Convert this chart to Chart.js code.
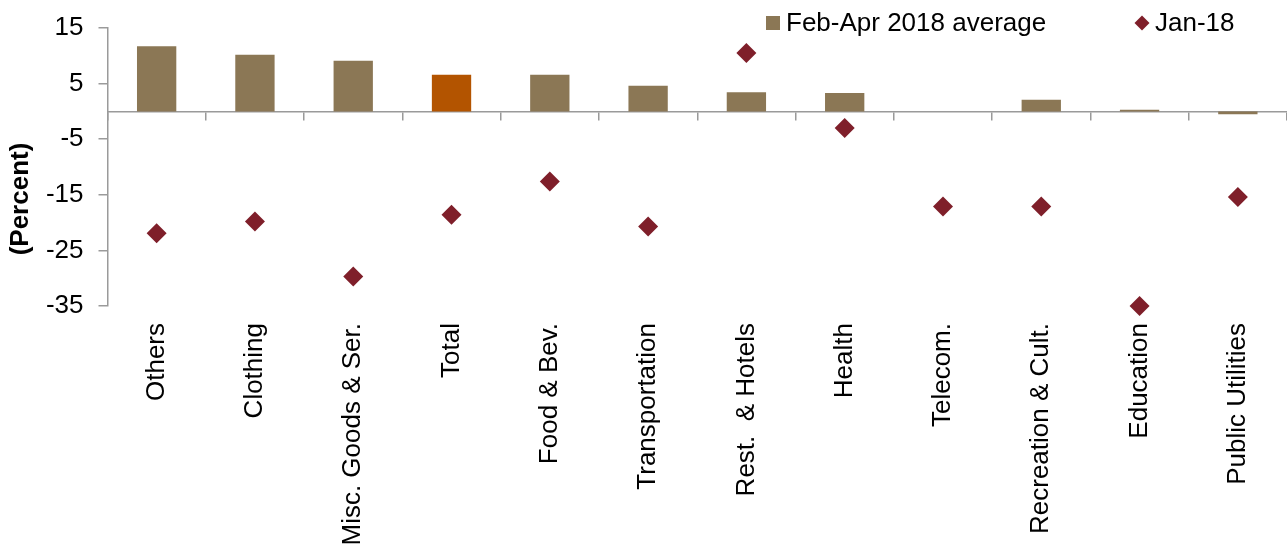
<!DOCTYPE html>
<html>
<head>
<meta charset="utf-8">
<script src="https://cdn.jsdelivr.net/npm/chart.js@4.4.1/dist/chart.umd.min.js"></script>
<style>
    html, body { margin: 0; padding: 0; background: #fff; }
    #div_grafica { width: 1287px; height: 548px; }
</style>
</head>
<body>
<div id="div_grafica"><canvas id="myChart"></canvas></div>
<script>
//datos
const categorias = ['Others', 'Clothing', 'Misc. Goods & Ser.', 'Total', 'Food & Bev.', 'Transportation',
    'Rest.  & Hotels', 'Health', 'Telecom.', 'Recreation & Cult.', 'Education', 'Public Utilities']
const promedioFebAbr = [11.7, 10.2, 9.1, 6.6, 6.6, 4.6, 3.45, 3.3, 0, 2.1, 0.3, -0.5]
const ene18 = [-21.9, -19.8, -29.7, -18.6, -12.6, -20.7, 10.5, -3.0, -17.1, -17.1, -35.0, -15.4]
const ticksY = [15, 5, -5, -15, -25, -35]

//colores
const colorBarra = '#8b7755'
const colorTotal = '#b35400'
const colorRombo = '#7f1f2a'
const gris = '#9a9a9a'
const fuente = '"Liberation Sans", Arial, sans-serif'

//la barra de Total va en otro color
const coloresBarras = categorias.map(function (c) {
    return c == 'Total' ? colorTotal : colorBarra
})

//leyenda y titulo del eje y se dibujan a mano para dejarlos donde van
const leyenda = {
    id: 'leyenda',
    afterDraw(chart) {
        const ctx = chart.ctx
        const area = chart.chartArea
        const der = area.right
        ctx.save()
        ctx.font = '26px ' + fuente
        ctx.textBaseline = 'middle'
        ctx.textAlign = 'left'

        ctx.fillStyle = colorBarra
        ctx.fillRect(der - 521, 16, 14, 14)
        ctx.fillStyle = '#000'
        ctx.fillText(chart.data.datasets[0].label, der - 501, 24)

        ctx.fillStyle = colorRombo
        ctx.beginPath()
        ctx.moveTo(der - 145, 15.5)
        ctx.lineTo(der - 137.5, 23)
        ctx.lineTo(der - 145, 30.5)
        ctx.lineTo(der - 152.5, 23)
        ctx.closePath()
        ctx.fill()
        ctx.fillStyle = '#000'
        ctx.fillText(chart.data.datasets[1].label, der - 132, 24)

        //titulo del eje y
        ctx.font = 'bold 26px ' + fuente
        ctx.textAlign = 'center'
        ctx.translate(21, area.top + 171)
        ctx.rotate(-Math.PI / 2)
        ctx.fillText('(Percent)', 0, 0)
        ctx.restore()
    }
}

const canvas = document.querySelector('#myChart')
const ctx = canvas.getContext('2d')

let chart = new Chart(ctx, {
    type: 'bar',
    data: {
        labels: categorias,
        datasets: [{
            label: 'Feb-Apr 2018 average',
            data: promedioFebAbr,
            backgroundColor: coloresBarras,
            barPercentage: 0.4,
            categoryPercentage: 1.0,
            order: 1
        },
        {
            type: 'line',
            label: 'Jan-18',
            data: ene18,
            showLine: false,
            clip: false,
            pointStyle: 'rectRot',
            pointRadius: 10,
            pointHoverRadius: 10,
            pointBorderWidth: 0,
            backgroundColor: colorRombo,
            borderColor: colorRombo,
            order: 0
        }]
    },
    options: {
        responsive: true,
        maintainAspectRatio: false,
        animation: false,
        events: [],
        layout: { autoPadding: false, padding: { left: 46, top: 28, right: 0, bottom: 0 } },
        plugins: {
            legend: { display: false },
            tooltip: { enabled: false }
        },
        scales: {
            //eje de categorias pegado al cero, solo linea y marcas
            x: {
                type: 'category',
                position: { y: 0 },
                offset: true,
                grid: { display: true, drawOnChartArea: false, drawTicks: true, tickLength: 8, color: gris, lineWidth: 1.5, offset: true },
                border: { display: true, color: gris, width: 1.5 },
                ticks: { display: false }
            },
            //eje de abajo solo para los nombres
            x2: {
                type: 'category',
                labels: categorias,
                position: 'bottom',
                offset: true,
                grid: { display: false, drawTicks: false },
                border: { display: false },
                ticks: {
                    autoSkip: false,
                    minRotation: 90,
                    maxRotation: 90,
                    padding: 17,
                    color: '#000',
                    font: { family: fuente, size: 26 }
                },
                //se fija el alto del eje, los nombres largos pueden salirse por abajo
                afterFit: function (eje) {
                    eje.height = 242
                    eje.paddingLeft = 0
                    eje.paddingRight = 0
                }
            },
            y: {
                min: -35,
                max: 15,
                afterBuildTicks: function (eje) {
                    eje.ticks = ticksY.map(function (v) { return { value: v } })
                },
                afterFit: function (eje) {
                    eje.width = 61.5
                    eje.paddingTop = 0
                    eje.paddingBottom = 0
                },
                grid: { drawOnChartArea: false, tickLength: 9, color: gris, lineWidth: 1.5 },
                border: { display: true, color: gris, width: 1.5 },
                ticks: {
                    padding: 15,
                    color: '#000',
                    font: { family: fuente, size: 26 }
                }
            }
        }
    },
    plugins: [leyenda]
})
</script>
</body>
</html>
